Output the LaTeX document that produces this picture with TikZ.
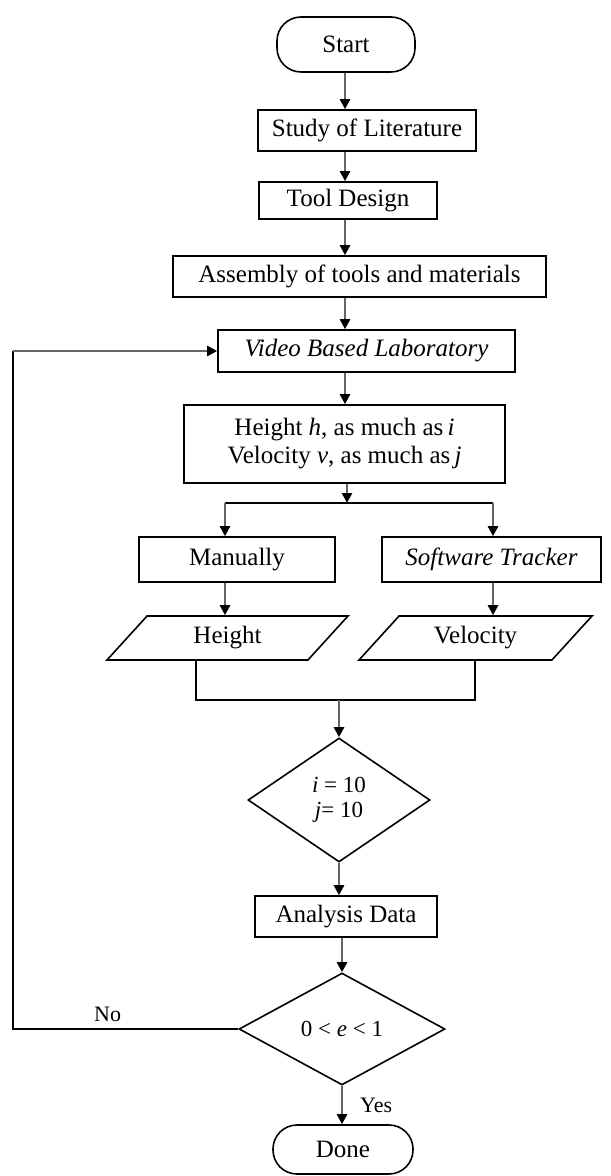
\documentclass[tikz,border=0pt]{standalone}
\usepackage{fontspec}
\setmainfont{Liberation Serif}
\usepackage{tikz}
\usetikzlibrary{shapes.geometric, arrows.meta}
\usetikzlibrary{calc,positioning}

\tikzset{
    box/.style={draw, line width=0.8pt, inner sep=2pt, align=center,
        font=\fontsize{12.5}{14}\selectfont},
    term/.style={box, rounded corners=12pt},
    io/.style={trapezium, trapezium left angle=42, trapezium right angle=138,
        trapezium stretches body, draw, line width=0.8pt, minimum height=22pt,
        font=\fontsize{12.5}{14}\selectfont},
    test/.style={diamond, draw, line width=0.8pt, inner sep=0pt, align=center,
        font=\fontsize{11.5}{12.5}\selectfont},
    arr/.style={-{Triangle[length=5pt,width=5pt,color=black]},
        line width=1.4pt, draw=black!60},
    link/.style={line width=0.6pt}
}

\begin{document}
\begin{tikzpicture}[x=0.5pt, y=-0.5pt]
    \useasboundingbox (0,0) rectangle (610,1176);

    % Steps
    \node[term, minimum width=69pt, minimum height=27.5pt] (start) at (346,44.5) {Start};
    \node[box, minimum width=109pt, minimum height=20.5pt] (study) at (367,130.5) {Study of Literature};
    \node[box, minimum width=89pt, minimum height=18.5pt] (design) at (348,200.5) {Tool Design};
    \node[box, minimum width=186.5pt, minimum height=20.5pt] (assembly) at (359.5,276.5) {Assembly of tools and materials};
    \node[box, minimum width=148.5pt, minimum height=21pt] (video) at (366.5,351) {\textit{Video Based Laboratory}};
    \node[box, minimum width=160.5pt, minimum height=39pt] (measure) at (344.5,444)
        {Height \textit{h}, as much as\,\textit{i}\\Velocity \textit{v}, as much as\,\textit{j}};

    % Branches
    \node[box, minimum width=98pt, minimum height=22.5pt] (manual) at (237,559.5) {Manually};
    \node[box, minimum width=109.5pt, minimum height=22.5pt] (tracker) at (491.5,559.5) {\textit{Software Tracker}};
    \node[io, minimum width=120.5pt] (heightio) at (227.5,638) {Height};
    \node[io, minimum width=116.5pt] (velocityio) at (475.5,638) {Velocity};

    % Checks
    \node[test, minimum width=91pt, minimum height=62pt] (check1) at (339,800) {\textit{i} = 10\\\textit{j}= 10};
    \node[box, minimum width=91pt, minimum height=20.5pt] (analysis) at (346,916.5) {Analysis Data};
    \node[test, minimum width=103pt, minimum height=56pt] (check2) at (342,1029) {0 < \textit{e} < 1};
    \node[term, minimum width=70pt, minimum height=24.5pt] (done) at (343,1149.5) {Done};

    % Guides
    \coordinate (spine) at (345,0);
    \coordinate (split) at (347,503);
    \coordinate (lcol) at (225,503);
    \coordinate (rcol) at (493,503);
    \coordinate (hdrop) at (196,700);
    \coordinate (vdrop) at (475,700);
    \coordinate (join) at (339,700);
    \coordinate (back) at (13,351);

    % Main line
    \foreach \a/\b in {start/study, study/design, design/assembly, assembly/video, video/measure} {
        \draw[arr] (spine |- \a.south) -- (spine |- \b.north);
    }
    \draw[arr] (split |- measure.south) -- (split);

    % Split
    \draw[link] (lcol) -- (rcol);
    \draw[arr] (lcol) -- (lcol |- manual.north);
    \draw[arr] (rcol) -- (rcol |- tracker.north);
    \draw[arr] (lcol |- manual.south) -- (lcol |- heightio.north);
    \draw[arr] (rcol |- tracker.south) -- (rcol |- velocityio.north);

    % Join
    \draw[link] (hdrop |- heightio.south) -- (hdrop) -- (vdrop) -- (vdrop |- velocityio.south);
    \draw[arr] (join) -- (check1.north);
    \draw[arr] (check1.south) -- (check1.south |- analysis.north);
    \draw[arr] (analysis.south -| check2.north) -- (check2.north);
    \draw[arr] (check2.south) -- (check2.south |- done.north)
        node[midway, right=5pt, font=\fontsize{11}{12}\selectfont] {Yes};

    % Loop back
    \draw[link] (check2.west) -| (back)
        node[pos=0.29, above, font=\fontsize{11}{12}\selectfont] {No};
    \draw[arr] (back) -- (video.west);

\end{tikzpicture}
\end{document}
